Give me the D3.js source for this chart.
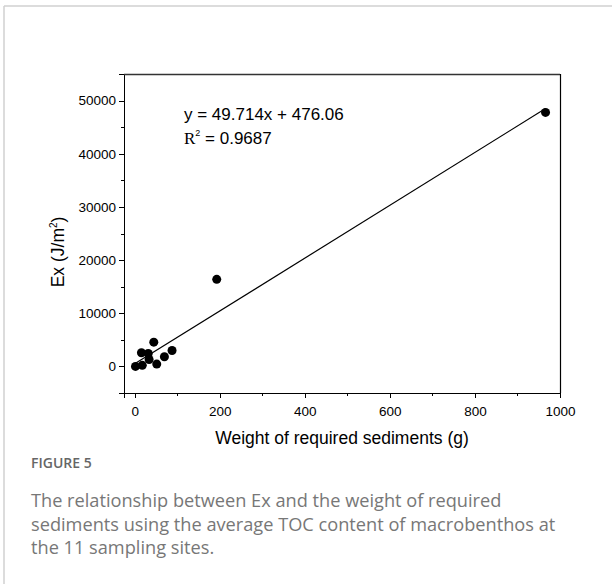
<!DOCTYPE html>
<html>
    <head>
        <meta charset="utf-8">
        <style>
        html, body {
            margin: 0px;
            width: 612px;
            height: 584px;
            background: #fff;
            overflow: hidden;
        }
        svg { display: block; }
        .axis text {
          font: 13.5px "Liberation Sans", Arial, sans-serif;
          fill: #000;
        }
        .axis path,
        .axis line {
          fill: none;
          stroke: #000;
          shape-rendering: crispEdges;
        }
        </style>
    </head>
    <body>
        <svg class="chart" width="612" height="584"></svg>
        <script src="https://cdn.jsdelivr.net/npm/d3@7"></script>
        <script>
            // sediment weight (g) and Ex (J/m2) at the 11 sampling sites
            var weight = [2, 18, 16, 32, 34, 45, 52, 70, 88, 193, 966];
            var ex = [0, 200, 2570, 2440, 1310, 4560, 440, 1820, 3000, 16380, 47780];
            var xTicks = [0, 200, 400, 600, 800, 1000];
            var yTicks = [0, 10000, 20000, 30000, 40000, 50000];
            var slope = 49.714, intercept = 476.06;

            var svg = d3.select(".chart");

            // page frame
            svg.append("line").attr("x1", 4).attr("y1", 6).attr("x2", 612).attr("y2", 6)
               .attr("stroke", "#d0d0d0").attr("stroke-width", 1.5);
            svg.append("line").attr("x1", 4).attr("y1", 6).attr("x2", 4).attr("y2", 584)
               .attr("stroke", "#d0d0d0").attr("stroke-width", 1.5);

            var margin = {top: 74, left: 124, right: 560, bottom: 393};

            var x = d3.scaleLinear().domain([-25, 1000]).range([margin.left, margin.right]);
            var y = d3.scaleLinear().domain([-5000, 55000]).range([margin.bottom, margin.top]);

            var xAxis = d3.axisBottom(x).tickValues(xTicks).tickSize(5).tickPadding(8).tickFormat(d3.format("d"));
            var xMinor = d3.axisBottom(x).tickValues(d3.range(100, 1000, 200)).tickSize(3).tickFormat("");
            var yAxis = d3.axisLeft(y).tickValues(yTicks).tickSize(5).tickPadding(3).tickFormat(d3.format("d"));
            var yMinor = d3.axisLeft(y).tickValues(d3.range(-5000, 55001, 10000)).tickSize(3).tickFormat("");

            svg.append("g").attr("class", "x axis")
               .attr("transform", "translate(0," + margin.bottom + ")")
               .call(xAxis);
            svg.append("g").attr("class", "x axis minor")
               .attr("transform", "translate(0," + margin.bottom + ")")
               .call(xMinor).select(".domain").remove();
            svg.append("g").attr("class", "y axis")
               .attr("transform", "translate(" + margin.left + ",0)")
               .call(yAxis);
            svg.append("g").attr("class", "y axis minor")
               .attr("transform", "translate(" + margin.left + ",0)")
               .call(yMinor).select(".domain").remove();

            // top and right frame
            svg.append("line").attr("x1", margin.left).attr("y1", margin.top + 0.5)
               .attr("x2", margin.right).attr("y2", margin.top + 0.5)
               .attr("stroke", "#333").attr("stroke-width", 1.3);
            svg.append("line").attr("x1", margin.right + 0.5).attr("y1", margin.top)
               .attr("x2", margin.right + 0.5).attr("y2", margin.bottom)
               .attr("stroke", "#000").attr("stroke-width", 1.2);

            // fitted line
            var xmin = d3.min(weight), xmax = d3.max(weight);
            svg.append("line")
               .attr("x1", x(xmin)).attr("y1", y(slope * xmin + intercept))
               .attr("x2", x(xmax)).attr("y2", y(slope * xmax + intercept))
               .attr("stroke", "#000").attr("stroke-width", 1.2);

            svg.selectAll("circle.pt")
               .data(weight)
               .enter().append("circle")
               .attr("class", "pt")
               .attr("cx", function(d) { return x(d); })
               .attr("cy", function(d, i) { return y(ex[i]); })
               .attr("r", 4.5)
               .attr("fill", "#000");

            // equation
            svg.append("text")
               .attr("x", 184).attr("y", 120)
               .style("font", "17px 'Liberation Sans', Arial, sans-serif")
               .text("y = " + slope + "x + " + intercept.toFixed(2));
            var r2 = svg.append("text")
               .attr("x", 184).attr("y", 144)
               .style("font", "17px 'Liberation Sans', Arial, sans-serif");
            r2.append("tspan").style("font-family", "'Liberation Serif', 'Times New Roman', serif").text("R");
            r2.append("tspan").attr("dy", -8).style("font-size", "9px").text("2");
            r2.append("tspan").attr("dy", 8).text(" = 0.9687");

            // axis titles
            svg.append("text")
               .attr("x", 342).attr("y", 444)
               .attr("text-anchor", "middle")
               .style("font", "17.5px 'Liberation Sans', Arial, sans-serif")
               .text("Weight of required sediments (g)");
            var yl = svg.append("text")
               .attr("transform", "translate(64,252) rotate(-90)")
               .attr("text-anchor", "middle")
               .style("font", "17.5px 'Liberation Sans', Arial, sans-serif");
            yl.append("tspan").text("Ex (J/m");
            yl.append("tspan").attr("dy", -7).style("font-size", "10px").text("2");
            yl.append("tspan").attr("dy", 7).text(")");

            // caption
            svg.append("text")
               .attr("x", 31).attr("y", 468)
               .style("font", "600 14px 'Open Sans', sans-serif")
               .attr("fill", "#666")
               .text("FIGURE 5");
            var caption = [
                "The relationship between Ex and the weight of required",
                "sediments using the average TOC content of macrobenthos at",
                "the 11 sampling sites."
            ];
            svg.selectAll("text.cap")
               .data(caption)
               .enter().append("text")
               .attr("class", "cap")
               .attr("x", 31)
               .attr("y", function(d, i) { return 507 + i * 23.5; })
               .attr("fill", "#777")
               .style("font", "18.2px 'Open Sans', sans-serif")
               .text(function(d) { return d; });
        </script>
    </body>
</html>
